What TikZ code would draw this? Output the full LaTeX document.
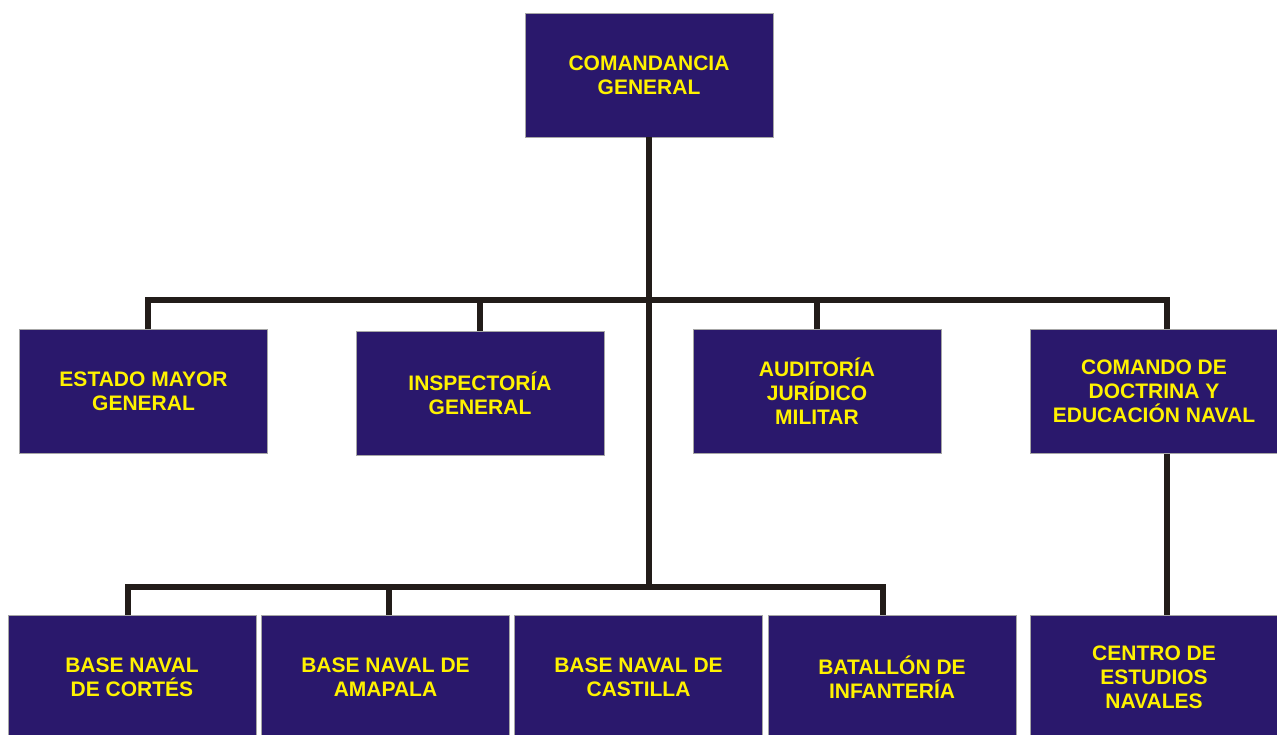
\documentclass[tikz,border=0pt]{standalone}
\usepackage{fontspec}
\setmainfont{Liberation Sans}
\usepackage{xcolor}
\usepackage{tikz}
\usetikzlibrary{positioning}

\definecolor{navyfill}{HTML}{2A186C}
\definecolor{unittext}{HTML}{FFF200}
\definecolor{linkcol}{HTML}{221C19}

\tikzset{
    unit/.style={draw=gray!70, line width=0.8pt, fill=navyfill, text=unittext,
        font=\bfseries\fontsize{21}{24}\selectfont, align=center,
        minimum width=248pt, minimum height=124pt, inner sep=0pt},
    link/.style={draw=linkcol, line width=6pt, line join=miter}
}

\begin{document}
\begin{tikzpicture}[x=1pt,y=-1pt]
\useasboundingbox (0,0) rectangle (1277,735);

% Boxes
\node[unit] (cg) at (649,75) {COMANDANCIA\\GENERAL};

\node[unit] (est) at (143.5,391.5) {ESTADO MAYOR\\GENERAL};
\node[unit] (insp) at (480,393) {INSPECTORÍA\\GENERAL};
\node[unit] (aud) at (817,391.5) {AUDITORÍA\\JURÍDICO\\MILITAR};
\node[unit] (cde) at (1154,391.5) {COMANDO DE\\DOCTRINA Y\\EDUCACIÓN NAVAL};

\node[unit] (cor) at (132,677) {BASE NAVAL\\DE CORTÉS};
\node[unit] (ama) at (385.5,677) {BASE NAVAL DE\\AMAPALA};
\node[unit] (cas) at (638.5,677) {BASE NAVAL DE\\CASTILLA};
\node[unit] (bat) at (892,677) {BATALLÓN DE\\INFANTERÍA};
\node[unit] (cen) at (1154,677) {CENTRO DE\\ESTUDIOS\\NAVALES};

% Bus points
\coordinate (hEst) at (148,300);
\coordinate (hIns) at (480,300);
\coordinate (hAud) at (817,300);
\coordinate (hCde) at (1167,300);
\coordinate (hCor) at (128,587);
\coordinate (hAma) at (389,587);
\coordinate (hBas) at (649,587);
\coordinate (hBat) at (883,587);

% Connectors
\draw[link] (cg.south) -- (cg.south |- hBas);
\draw[link] (hEst |- est.north) -- (hEst) -- (hCde) -- (hCde |- cde.north);
\draw[link] (hIns) -- (hIns |- insp.north);
\draw[link] (hAud) -- (hAud |- aud.north);
\draw[link] (hCor |- cor.north) -- (hCor) -- (hBat) -- (hBat |- bat.north);
\draw[link] (hAma) -- (hAma |- ama.north);
\draw[link] (hCde |- cde.south) -- (hCde |- cen.north);
\end{tikzpicture}
\end{document}
